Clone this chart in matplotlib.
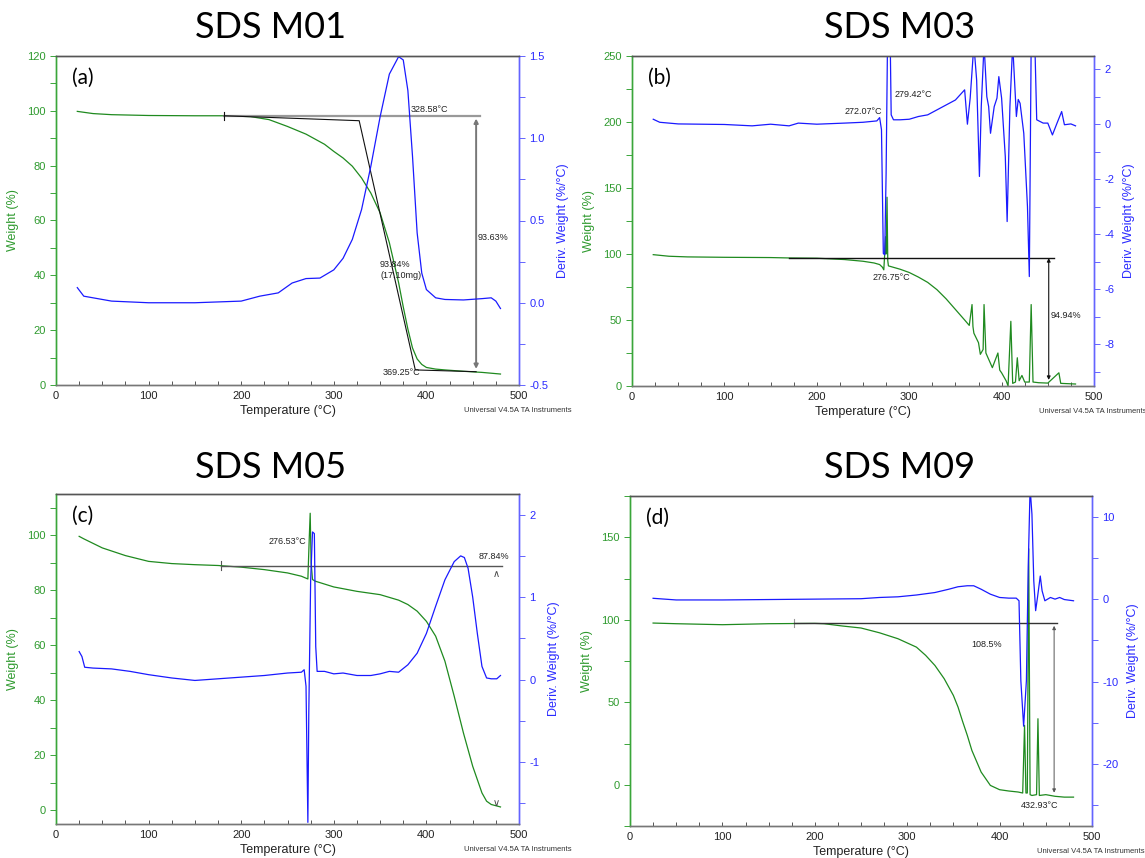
import matplotlib
matplotlib.use("Agg")
import matplotlib.pyplot as plt
from matplotlib.ticker import MultipleLocator, FormatStrFormatter

plt.rcParams['font.family'] = ['Liberation Sans', 'DejaVu Sans']

# ---------------- data ----------------
# Panel (a) SDS M01
a_T_w = [23, 40, 60, 100, 150, 180, 210, 230, 250, 270, 290, 300, 310, 320, 330, 340, 350, 360,
         370, 375, 380, 385, 390, 395, 400, 410, 420, 440, 460, 480]
a_W = [99.8, 99.0, 98.6, 98.3, 98.2, 98.2, 97.9, 96.8, 94.3, 91.5, 87.8, 85.2, 82.8, 79.8, 75.5,
       70.0, 62.8, 51.9, 37.3, 28.5, 20.4, 13.5, 9.5, 7.5, 6.4, 5.8, 5.5, 5.0, 4.6, 4.0]
a_T_d = [23, 30, 40, 60, 80, 100, 125, 150, 175, 200, 220, 240, 255, 270, 285, 300, 310, 320, 330,
         340, 350, 360, 370, 375, 380, 385, 390, 395, 400, 410, 420, 440, 460, 470, 475, 480]
a_D = [0.092, 0.04, 0.03, 0.01, 0.005, 0.0, 0.0, 0.0, 0.005, 0.01, 0.04, 0.06, 0.12, 0.147, 0.15,
       0.2, 0.27, 0.385, 0.567, 0.83, 1.13, 1.39, 1.496, 1.476, 1.29, 0.89, 0.425, 0.18, 0.08, 0.03,
       0.02, 0.017, 0.025, 0.03, 0.01, -0.035]

# Panel (b) SDS M03
b_T_w = [23, 40, 60, 100, 150, 170, 200, 230, 250, 262, 268, 271, 272.5, 273.5, 274.5, 275, 276,
         276.8, 277.5, 280, 290, 300, 310, 320, 330, 340, 350, 360, 365, 368, 369, 370, 375, 377,
         380, 381, 383, 390, 396, 398, 400, 405, 407, 410, 412, 415, 417, 419, 422, 425, 430, 432,
         434, 440, 450, 462, 464, 480]
b_W = [99.5, 98.3, 97.8, 97.5, 97.3, 97.0, 96.8, 95.8, 94.5, 93.2, 92.0, 90.0, 88.0, 100, 113,
       100, 143, 95, 91, 90.5, 88.5, 86, 82.5, 78.5, 73, 66, 58, 50, 45.9, 61.7, 45, 40, 32.8, 24,
       27.7, 61.7, 25, 13.9, 25, 12, 10, 3.8, 0, 49, 2, 3, 21.4, 4, 8, 3, 3, 61.7, 3, 2.5, 2.2, 10,
       2, 1.5]
b_T_d = [23, 30, 50, 100, 130, 150, 170, 180, 200, 230, 250, 265, 268, 270, 272, 273.5, 275, 276.5,
         278, 279.5, 280.5, 283, 290, 300, 310, 320, 330, 340, 350, 360, 363, 366, 370, 373, 376,
         378, 381, 384, 386, 388, 392, 395, 397, 400, 404, 406, 409, 412, 416, 418, 420, 424, 428,
         430, 432, 436, 438, 445, 450, 455, 460, 465, 468, 475, 480]
b_D = [0.18, 0.07, 0.01, -0.01, -0.06, 0.0, -0.06, 0.04, 0.0, 0.04, 0.07, 0.12, 0.24, -0.2, -4.7,
       -4.75, -1.8, 2.9, 3.2, 2.9, 0.34, 0.16, 0.16, 0.18, 0.28, 0.34, 0.52, 0.7, 0.88, 1.25, 0.0,
       0.95, 2.9, 1.6, -1.9, 0.65, 2.9, 1.0, 0.64, -0.33, 0.64, 0.95, 1.73, 0.95, -1.18, -3.54,
       0.64, 2.9, 0.28, 0.9, 0.76, -0.33, -3.0, -5.54, 2.9, 2.9, 0.16, 0.04, 0.04, -0.39, 0.04,
       0.46, -0.02, 0.01, -0.06]

# Panel (c) SDS M05
c_T_w = [25, 30, 50, 75, 100, 125, 150, 175, 200, 225, 250, 265, 272, 273.5, 274.5, 275.5, 277,
         280, 300, 325, 350, 370, 380, 390, 400, 410, 420, 430, 440, 450, 460, 465, 470, 480]
c_W = [99.6, 98.7, 95.4, 92.6, 90.5, 89.7, 89.3, 89.0, 88.4, 87.5, 86.3, 85.1, 84.1, 99, 108, 90,
       83.9, 83.3, 81.2, 79.6, 78.4, 76.4, 74.8, 72.4, 68.7, 63.3, 54.2, 41.5, 28.1, 16, 6.3, 3.3,
       2.1, 1.2]
c_T_d = [25, 28, 31, 40, 60, 80, 100, 125, 150, 175, 200, 225, 250, 265, 268, 270, 272, 273, 275,
         277, 279, 280.5, 282, 290, 300, 310, 325, 340, 350, 360, 370, 380, 390, 400, 410, 420, 430,
         437, 441, 445, 450, 455, 460, 465, 470, 476, 480]
c_D = [0.34, 0.28, 0.15, 0.14, 0.13, 0.1, 0.06, 0.02, -0.01, 0.01, 0.03, 0.05, 0.08, 0.09, 0.12,
       -0.08, -1.73, -0.4, 1.2, 1.79, 1.77, 0.4, 0.1, 0.1, 0.07, 0.08, 0.05, 0.05, 0.07, 0.1, 0.09,
       0.18, 0.32, 0.56, 0.89, 1.21, 1.43, 1.5, 1.48, 1.35, 1.0, 0.56, 0.16, 0.02, 0.01, 0.01, 0.05]

# Panel (d) SDS M09
d_T_w = [25, 50, 100, 150, 200, 210, 230, 250, 270, 290, 310, 320, 330, 340, 350, 355, 360, 365,
         370, 380, 390, 400, 410, 420, 425, 427, 428.5, 430, 431.5, 433, 435, 440, 441.5, 443, 450,
         460, 470, 480]
d_W = [98, 97.6, 97, 97.6, 97.8, 97.6, 96.2, 95, 92.1, 88.5, 83.4, 78.4, 72.3, 64.3, 54.1, 47.1,
       38.3, 30, 20.8, 7.7, -0.4, -3, -3.8, -4.4, -5, 36, -5, -5, 143, -6, -6.5, -6, 40, -6.5, -6,
       -7, -7.5, -7.5]
d_T_d = [25, 50, 100, 150, 200, 250, 270, 290, 310, 330, 345, 355, 365, 372, 380, 390, 400, 410,
         418, 421, 423, 426, 429, 431, 433, 435, 437, 439, 441, 444, 446, 449, 455, 460, 465, 470,
         480]
d_D = [0.1, -0.1, -0.1, -0.05, 0.0, 0.05, 0.2, 0.28, 0.5, 0.8, 1.2, 1.5, 1.62, 1.62, 1.2, 0.6,
       0.2, 0.12, 0.12, -0.2, -9.9, -15.4, -9.9, 4.0, 13.5, 10.3, 2.2, -1.4, 0.2, 2.8, 1.0, -0.2,
       0.2, 0.0, 0.2, -0.05, -0.2]

titles = ["SDS M01", "SDS M03", "SDS M05", "SDS M09"]
panel_labels = ["(a)", "(b)", "(c)", "(d)"]

# annotation values
a_ann = {"h_y": 98.2, "h_x0": 181.5, "h_x1": 457.5, "v_x": 453.7, "v_y1": 4.85,
         "tan": ([181.5, 327.4, 388, 453.7], [98.2, 96.4, 5.5, 4.85])}
b_ann = {"h_y": 97.0, "h_x0": 170, "h_x1": 457, "v_x": 451, "v_y1": 2.5}
c_ann = {"h_y": 89.0, "h_x0": 178, "h_x1": 482}
d_ann = {"h_y": 98.0, "h_x0": 178, "h_x1": 462, "v_x": 459, "v_y1": -6.5}

# ---------------- style ----------------
GREEN_AX = '#3aa63a'
GREEN_TXT = '#2e9a2e'
GREEN_LINE = '#1f8a1f'
BLUE_AX = '#6464ff'
BLUE_TXT = '#2a2aff'
BLUE_LINE = '#1a1aff'

fig = plt.figure(figsize=(11.45, 8.58), dpi=100)

rects = [
    [56 / 1145, 1 - 385 / 858, 463 / 1145, 329 / 858],
    [632 / 1145, 1 - 386 / 858, 462 / 1145, 330 / 858],
    [56 / 1145, 1 - 824 / 858, 463 / 1145, 330 / 858],
    [630 / 1145, 1 - 826 / 858, 462 / 1145, 330 / 858],
]
left_lims = [(0, 120), (0, 250), (-5, 115), (-25, 175)]
left_major = [20, 50, 20, 50]
left_minor = [10, 25, 10, 25]
right_lims = [(-0.5, 1.5), (-9.52, 2.48), (-1.75, 2.25), (-27.5, 12.5)]
right_major = [0.5, 2, 1, 10]
right_minor = [0.25, 1, 0.5, 5]
right_fmt = ['%.1f', '%d', '%d', '%d']
series = [(a_T_w, a_W, a_T_d, a_D), (b_T_w, b_W, b_T_d, b_D),
          (c_T_w, c_W, c_T_d, c_D), (d_T_w, d_W, d_T_d, d_D)]
title_pos = [(271, 27), (900, 27), (271, 467), (900, 467)]

axes = []
for i in range(4):
    ax = fig.add_axes(rects[i])
    ax2 = ax.twinx()
    Tw, W, Td, D = series[i]
    ax.plot(Tw, W, color=GREEN_LINE, lw=0.9, zorder=3)
    ax2.plot(Td, D, color=BLUE_LINE, lw=0.9)
    ax.set_xlim(0, 500)
    ax.set_ylim(*left_lims[i])
    ax2.set_ylim(*right_lims[i])
    ax.xaxis.set_major_locator(MultipleLocator(100))
    ax.xaxis.set_minor_locator(MultipleLocator(25))
    ax.yaxis.set_major_locator(MultipleLocator(left_major[i]))
    ax.yaxis.set_minor_locator(MultipleLocator(left_minor[i]))
    ax2.yaxis.set_major_locator(MultipleLocator(right_major[i]))
    ax2.yaxis.set_minor_locator(MultipleLocator(right_minor[i]))
    ax2.yaxis.set_major_formatter(FormatStrFormatter(right_fmt[i]))
    ax.tick_params(axis='x', direction='in', length=3, width=0.7, colors='#555555',
                   labelcolor='#222222', labelsize=8, pad=4)
    ax.tick_params(axis='x', which='minor', direction='in', length=3, width=0.7, colors='#555555')
    ax.tick_params(axis='y', which='both', direction='out', length=4, width=0.7, colors=GREEN_AX,
                   labelcolor=GREEN_TXT, labelsize=8)
    ax2.tick_params(axis='y', which='both', direction='out', length=4, width=0.7, colors=BLUE_AX,
                    labelcolor=BLUE_TXT, labelsize=8)
    for a_ in (ax, ax2):
        a_.spines['left'].set_color(GREEN_AX)
        a_.spines['right'].set_color(BLUE_AX)
        a_.spines['top'].set_color('#555555')
        a_.spines['bottom'].set_color('#777777')
        for s in a_.spines.values():
            s.set_linewidth(1.0)
    ax.set_xlabel('Temperature (°C)', fontsize=9, color='#222222', labelpad=3)
    ax.set_ylabel('Weight (%)', fontsize=9, color=GREEN_TXT, labelpad=6)
    ax2.set_ylabel('Deriv. Weight (%/°C)', fontsize=9, color=BLUE_TXT, labelpad=6)
    ax.text(0.035, 0.965, panel_labels[i], transform=ax.transAxes, fontsize=15,
            family=['Lato', 'DejaVu Sans'], va='top', ha='left')
    ax.text(0.882, -0.076, 'Universal V4.5A TA Instruments', transform=ax.transAxes,
            fontsize=5.5, color='#333333', ha='left', va='center')
    fig.text(title_pos[i][0] / 1145, 1 - title_pos[i][1] / 858, titles[i], fontsize=26,
             family=['Lato', 'DejaVu Sans'], ha='center', va='center')
    axes.append((ax, ax2))

ann_kw = dict(fontsize=6.5, color='#222222')

# (a)
ax, ax2 = axes[0]
ax.plot([a_ann["h_x0"], a_ann["h_x1"]], [a_ann["h_y"]] * 2, color='#999999', lw=1.6, zorder=4)
ax.plot(a_ann["tan"][0], a_ann["tan"][1], color='#111111', lw=0.8, zorder=5)
ax.plot([a_ann["h_x0"]] * 2, [a_ann["h_y"] - 1.5, a_ann["h_y"] + 1.5], color='#111111', lw=0.8, zorder=5)
ax.annotate('', xy=(a_ann["v_x"], a_ann["h_y"]), xytext=(a_ann["v_x"], a_ann["v_y1"]),
            arrowprops=dict(arrowstyle='<|-|>', color='#777777', lw=1.4, mutation_scale=6), zorder=5)
ax.text(383, 99.5, '328.58°C', **ann_kw)
ax.text(455.5, 53, '93.63%', **ann_kw)
ax.text(350, 42, '93.84%\n(17.10mg)', va='center', linespacing=1.2, **ann_kw)
ax.text(352.5, 4.5, '369.25°C', va='center', **ann_kw)

# (b)
ax, ax2 = axes[1]
ax.plot([b_ann["h_x0"], b_ann["h_x1"]], [b_ann["h_y"]] * 2, color='#111111', lw=1.0, zorder=4)
ax.annotate('', xy=(b_ann["v_x"], b_ann["h_y"] + 2), xytext=(b_ann["v_x"], b_ann["v_y1"]),
            arrowprops=dict(arrowstyle='<|-|>', color='#111111', lw=0.8, mutation_scale=5), zorder=5)
ax.text(453, 53.4, '94.94%', va='center', **ann_kw)
ax.text(260, 82, '276.75°C', va='center', **ann_kw)
ax2.text(270.7, 0.48, '272.07°C', ha='right', va='center', **ann_kw)
ax2.text(284, 1.07, '279.42°C', va='center', **ann_kw)

# (c)
ax, ax2 = axes[2]
ax.plot([c_ann["h_x0"], c_ann["h_x1"]], [c_ann["h_y"]] * 2, color='#555555', lw=1.0, zorder=4)
ax.plot([c_ann["h_x0"]] * 2, [c_ann["h_y"] - 1.5, c_ann["h_y"] + 1.5], color='#555555', lw=0.8)
ax.text(475, 86, r'$\wedge$', ha='center', va='center', fontsize=7, color='#444444')
ax.text(475, 2.5, r'$\vee$', ha='center', va='center', fontsize=7, color='#444444')
ax.text(270.5, 97.6, '276.53°C', ha='right', va='center', **ann_kw)
ax.text(456, 92.4, '87.84%', va='center', **ann_kw)

# (d)
ax, ax2 = axes[3]
ax.plot([d_ann["h_x0"], d_ann["h_x1"]], [d_ann["h_y"]] * 2, color='#333333', lw=1.0, zorder=4)
ax.plot([d_ann["h_x0"]] * 2, [d_ann["h_y"] - 2.5, d_ann["h_y"] + 2.5], color='#999999', lw=0.8)
ax.annotate('', xy=(d_ann["v_x"], d_ann["h_y"]), xytext=(d_ann["v_x"], d_ann["v_y1"]),
            arrowprops=dict(arrowstyle='<|-|>', color='#555555', lw=0.7, mutation_scale=5), zorder=5)
ax.text(369.5, 85, '108.5%', va='center', **ann_kw)
ax.text(423, -12.5, '432.93°C', va='center', **ann_kw)

fig.savefig('out.png', dpi=100)
